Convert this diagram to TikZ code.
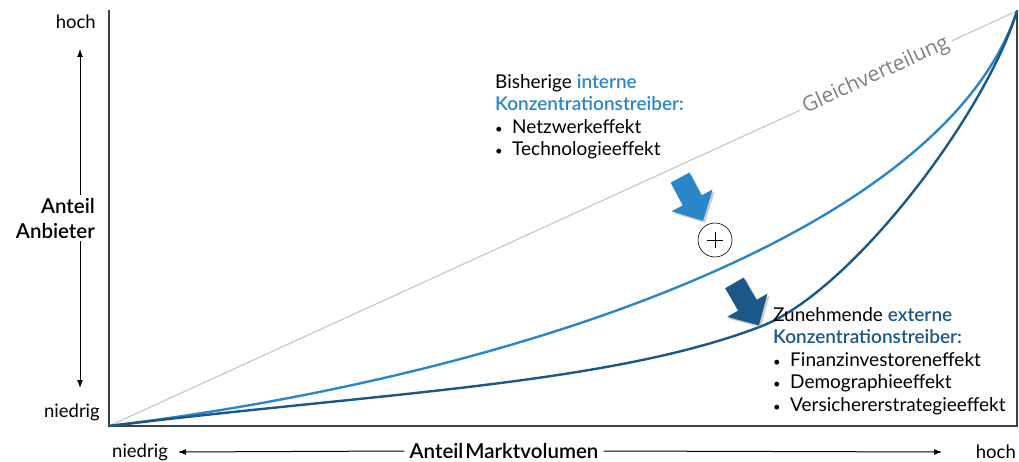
\documentclass[tikz,border=0pt]{standalone}
\usepackage{fontspec}
\setmainfont{Lato}
\newfontfamily\grayfont{Open Sans}
\newfontfamily\semifont{Lato Semibold}
\usetikzlibrary{arrows.meta,shapes.arrows,shadows}
\definecolor{lightb}{HTML}{2A86C9}
\definecolor{darkb}{HTML}{1B5788}
\definecolor{gline}{HTML}{C8C8C8}
\definecolor{gtext}{HTML}{808080}
\definecolor{axis}{HTML}{404040}
\tikzset{
  txt/.style={font=\fontsize{19}{22.5}\selectfont, align=left, inner sep=0pt, anchor=north west},
  axlab/.style={font=\fontsize{18.5}{21}\selectfont, inner sep=0pt},
  axtitle/.style={font=\semifont\fontsize{20.5}{25}\selectfont, inner xsep=5pt, inner ysep=3pt},
  arr/.style={-{Latex[length=8pt,width=6pt]}, line width=1pt},
  fatarrow/.style={single arrow, minimum height=49, inner xsep=0pt, inner ysep=10.5pt,
    single arrow head extend=12.5, draw=none,
    drop shadow={shadow xshift=2pt, shadow yshift=-2pt, opacity=0.4}},
}
\newcommand{\bul}{\makebox[17pt][l]{\fontsize{13}{13}\selectfont\textbullet}}
\newcommand{\hl}[2]{\textcolor{#1}{\semifont #2}}
\begin{document}
\begin{tikzpicture}[x=1pt, y=-1pt]
\useasboundingbox (0,0) rectangle (1019,462);
\coordinate (o) at (109,426);
\coordinate (t) at (1017,11);
% axes
\draw[axis, line width=1.2pt] (109,10) -- (o) -- (1017,426) -- (1017,10);
% Gleichverteilung
\node[rotate=24.6, text=gtext, font=\grayfont\fontsize{21}{24}\selectfont, inner sep=4pt] (g) at (876,75.5) {Gleichverteilung};
\draw[gline, line width=1.2pt] (o) -- (g.west);
\draw[gline, line width=1.2pt] (g.east) -- (t);
% curves
\draw[lightb, line width=2.4pt] (o) .. controls (517.6,376.2) and (944.4,231) .. (t);
\draw[darkb, line width=2.4pt] (o) .. controls (381.4,392.8) and (608.4,384.5) .. (760,326.8)
  .. controls (850.8,292.4) and (985.2,114.8) .. (t);
% fat arrows and plus
\node[fatarrow, fill=lightb, rotate=-62] (a1) at (689,194.5) {};
\node[fatarrow, fill=darkb, rotate=-60] (a2) at (744,299.5) {};
\node[circle, draw, line width=0.6pt, minimum size=34, inner sep=0pt] (plus) at (715,240) {};
\draw[line width=0.6pt] ([xshift=-8pt]plus.center) -- ([xshift=8pt]plus.center);
\draw[line width=0.6pt] ([yshift=-8pt]plus.center) -- ([yshift=8pt]plus.center);
% text blocks
\node[txt] (int) at (495,74) {Bisherige \hl{lightb}{interne}\\
  \hl{lightb}{Konzentrationstreiber:}\\
  \bul Netzwerkeffekt\\
  \bul Technologieeffekt};
\node[txt] (ext) at (773,307) {Zunehmende \hl{darkb}{externe}\\
  \hl{darkb}{Konzentrationstreiber:}\\
  \bul Finanzinvestoreneffekt\\
  \bul Demographieeffekt\\
  \bul Versichererstrategieeffekt};
% y axis labels
\node[axlab, anchor=east] (yhi) at (96,22) {hoch};
\node[axlab, anchor=east] (ylo) at (100,412) {niedrig};
\node[axtitle, align=right, anchor=east] (ylab) at (100,218) {Anteil\\Anbieter};
\coordinate (ytop) at (80,49);
\coordinate (ybot) at (80,388);
\draw[arr] (ytop |- ylab.north) -- (ytop);
\draw[arr] (ybot |- ylab.south) -- (ybot);
% x axis labels
\node[axlab, anchor=west] (xlo) at (112,452) {niedrig};
\node[axlab, anchor=east] (xhi) at (1016,452) {hoch};
\node[axtitle] (xlab) at (504,451) {Anteil\hspace{2pt}Marktvolumen};
\coordinate (xl) at (178,452);
\coordinate (xr) at (942,452);
\draw[arr] (xlab.west) -- (xl);
\draw[arr] (xlab.east) -- (xr);
\end{tikzpicture}
\end{document}
